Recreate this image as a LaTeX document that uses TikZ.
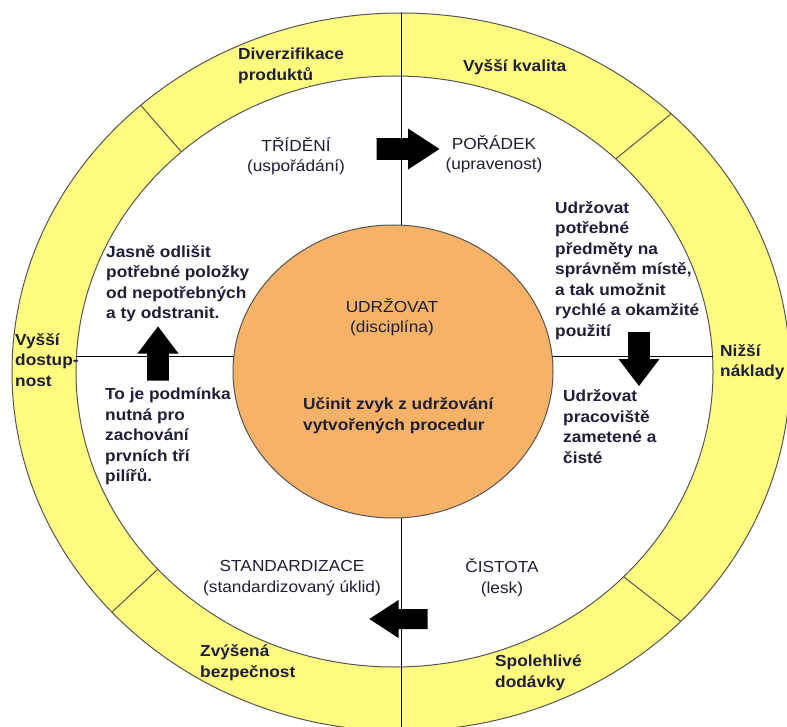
\documentclass[tikz,border=0pt]{standalone}
\usepackage{fontspec}
\setmainfont{Liberation Sans}
\definecolor{ringyellow}{RGB}{255,251,128}
\definecolor{coreorange}{RGB}{246,179,103}
\definecolor{inkblue}{RGB}{30,30,55}
\definecolor{rimgray}{RGB}{85,85,85}
\tikzset{
  every node/.style={inner sep=0pt,text=inkblue,xscale=1.08,font=\fontsize{16}{20.5}\selectfont},
  note/.style={align=left,anchor=west,font=\fontsize{16}{20.5}\selectfont\bfseries},
  pillar/.style={align=center},
  rim/.style={draw=rimgray,line width=1pt},
  bigarrow/.pic={\fill[black] (-27,-10) -- (0,-10) -- (0,-19) -- (27,0) -- (0,19) -- (0,10) -- (-27,10) -- cycle;}
}
\begin{document}
\begin{tikzpicture}[x=1pt,y=-1pt]
  \clip (0,0) rectangle (787,727);
  \fill[white] (0,0) rectangle (787,727);
  \filldraw[rim,fill=ringyellow] (401,372) ellipse [x radius=389,y radius=359];
  \filldraw[rim,fill=white] (394.5,371.5) ellipse [x radius=318.5,y radius=295.5];
  \foreach \a in {44,138,228,314}
    \draw[rim] ([shift={(401,372)}]\a:389 and 359) -- ([shift={(394.5,371.5)}]\a:318.5 and 295.5);
  \draw[rim,draw=black] (401,13) -- (401,727);
  \draw[rim,draw=black] (76.4,356) -- (712.6,356);
  \filldraw[rim,fill=coreorange] (393,371.5) ellipse [x radius=160,y radius=146.5];

  \node[note] (diverz)   at (238,66)    {Diverzifikace\\produktů};
  \node[note] (kvalita)  at (463,67)    {Vyšší kvalita};
  \node[note] (naklady)  at (720,362)   {Nižší\\náklady};
  \node[note] (dodavky)  at (495,673)   {Spolehlivé\\dodávky};
  \node[note] (bezpec)   at (200,662.5) {Zvýšená\\bezpečnost};
  \node[note] (dostup)   at (15,360)    {Vyšší\\dostup-\\nost};

  \node[pillar] (trideni)  at (296,156) {TŘÍDĚNÍ\\(uspořádání)};
  \node[pillar] (poradek)  at (494,154) {POŘÁDEK\\(upravenost)};
  \node[pillar] (cistota)  at (502,577.5) {ČISTOTA\\(lesk)};
  \node[pillar] (standard) at (292,578) {STANDARDIZACE\\(standardizovaný úklid)};
  \node[pillar] (udrzovat) at (392,317) {UDRŽOVAT\\(disciplína)};

  \node[note] (zvyk)    at (303,415.5) {Učinit zvyk z udržování\\vytvořených procedur};
  \node[note] (odlisit) at (106,283.5) {Jasně odlišit\\potřebné položky\\od nepotřebných\\a ty odstranit.};
  \node[note] (misto)   at (555,270.5) {Udržovat\\potřebné\\předměty na\\správněm místě,\\a tak umožnit\\rychlé a okamžité\\použití};
  \node[note] (zamet)   at (563,426.5) {Udržovat\\pracoviště\\zametené a\\čisté};
  \node[note] (pilire)  at (105,436.5) {To je podmínka\\nutná pro\\zachování\\prvních tří\\pilířů.};

  \pic[scale=1.08] at (408,149) {bigarrow};
  \pic[rotate=-90] at (639,359) {bigarrow};
  \pic[rotate=180] at (398.5,619) {bigarrow};
  \pic[rotate=90] at (158,353.5) {bigarrow};
\end{tikzpicture}
\end{document}
